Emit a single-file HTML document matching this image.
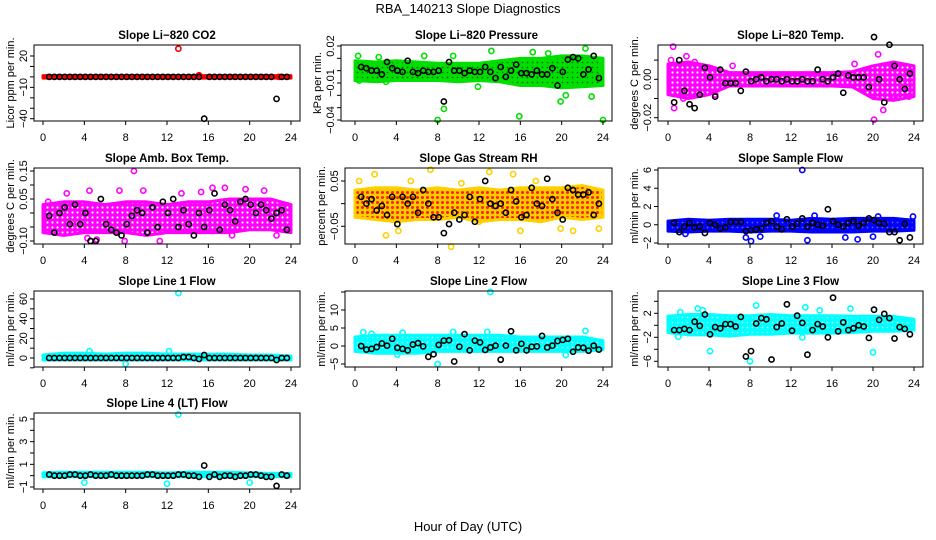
<!DOCTYPE html>
<html><head><meta charset="utf-8"><style>
body{margin:0;background:#fff}
svg{display:block;font-family:"Liberation Sans",sans-serif}
</style></head><body>
<svg id="c" width="936" height="540" viewBox="0 0 936 540">
<defs>
<pattern id="pt-red" width="5" height="5" patternUnits="userSpaceOnUse"><rect width="5" height="5" fill="#ff0000"/></pattern>
<pattern id="pt-green" width="5" height="5" patternUnits="userSpaceOnUse"><rect width="5" height="5" fill="#00e000"/><circle cx="2.5" cy="2.5" r="0.9" fill="#007000"/></pattern>
<pattern id="pt-magenta" width="5" height="5" patternUnits="userSpaceOnUse"><rect width="5" height="5" fill="#ff00ff"/><circle cx="2.5" cy="2.5" r="1.1" fill="#ffffff"/></pattern>
<pattern id="pt-rh" width="5" height="5" patternUnits="userSpaceOnUse"><rect width="5" height="5" fill="#ffcc00"/><circle cx="2.5" cy="2.5" r="1.5" fill="#ff2000"/></pattern>
<pattern id="pt-blue" width="5" height="5" patternUnits="userSpaceOnUse"><rect width="5" height="5" fill="#0000ff"/><circle cx="2.5" cy="2.5" r="0.9" fill="#6060ff"/></pattern>
<pattern id="pt-cyan" width="5" height="5" patternUnits="userSpaceOnUse"><rect width="5" height="5" fill="#00ffff"/><circle cx="2.5" cy="2.5" r="0.9" fill="#a0ffff"/></pattern>
</defs>
<text x="468" y="13" text-anchor="middle" font-size="13">RBA_140213  Slope Diagnostics</text>
<text x="468" y="531" text-anchor="middle" font-size="13">Hour of Day (UTC)</text>
</svg>
<script>
const xTicks=[0,4,8,12,16,20,24];
const bandHours=[0,2,4,6,8,10,12,14,16,18,20,22,24];
const blackHours=[0.6,1.1,1.6,2.1,2.6,3.1,3.6,4.1,4.6,5.1,5.6,6.1,6.6,7.1,7.6,8.1,8.6,9.1,9.6,10.1,10.6,11.1,11.6,12.1,12.6,13.1,13.6,14.1,14.6,15.1,15.6,16.1,16.6,17.1,17.6,18.1,18.6,19.1,19.6,20.1,20.6,21.1,21.6,22.1,22.6,23.1,23.6];

const co2Hi=[1.2,1.2,1.2,1.2,1.2,1.2,1.2,1.2,1.2,1.2,1.2,1.2,1.2];
const co2Lo=[-1.2,-1.2,-1.2,-1.2,-1.2,-1.2,-1.2,-1.2,-1.2,-1.2,-1.2,-1.2,-1.2];
const co2Black=[0,0,0,0,0,0,0,0,0,0,0,0,0,0,0,0,0,0,0,0,0,0,0,0,0,0,0,0,0,0,-40,0,0,0,0,0,0,0,0,0,0,0,0,0,-21,0,0];
const co2OutH=[13.1,15.1,22.8];
const co2OutV=[27,1.5,0];

const presHi=[.008,.007,.008,.007,.006,.006,.006,.008,.010,.010,.012,.012,.010];
const presLo=[-.008,-.009,-.008,-.008,-.008,-.009,-.008,-.009,-.012,-.012,-.014,-.013,-.012];
const presBlack=[.003,.002,0,0,-.003,.007,.002,0,-.001,.008,-.001,-.002,0,-.001,-.001,0,-.025,.007,0,0,-.002,0,-.001,-.001,.003,-.001,-.006,.003,-.005,0,.005,-.002,-.002,-.003,0,-.003,-.003,.002,-.012,-.001,.009,.011,.010,-.003,.001,.012,-.006];
const presOutH=[8,15.9,24,8.6,19.9,22.3,13.2,0.3,2.3,6.7,9.5,17.2,18.7,20.4,22.9,0.4,3,11.9];
const presOutV=[-.04,-.037,-.04,-.031,-.025,.018,.016,.012,.011,.012,.012,.015,.014,-.02,-.021,-.008,-.009,-.013];

const tmpHi=[.008,.009,.007,.0035,.0035,.0035,.0035,.0035,.0035,.004,.007,.009,.007];
const tmpLo=[-.008,-.010,-.008,-.0035,-.0035,-.0035,-.0035,-.0035,-.0035,-.004,-.010,-.011,-.009];
const tmpBlack=[-.012,.01,-.006,-.013,-.015,-.008,.006,.001,-.009,.005,-.002,-.002,-.002,-.006,.004,-.001,0,.001,-.001,0,0,-.001,0,-.001,-.001,0,-.001,-.001,.005,0,-.001,.001,.003,-.007,.002,.001,.001,.001,-.004,.022,0,-.012,.018,.007,0,-.005,.003];
const tmpOutH=[0.5,0.6,20.1,21,1.5,0.3,1.8,2.6,4.6,6.3,20.5,22.1,23.5,18.2];
const tmpOutV=[.017,-.015,-.021,-.016,-.01,.01,.012,.009,-.008,.007,.013,-.009,-.009,.008];

const ambHi=[.03,.04,.04,.03,.04,.04,.03,.04,.04,.05,.05,.05,.03];
const ambLo=[-.07,-.08,-.07,-.07,-.07,-.08,-.07,-.07,-.07,-.07,-.06,-.06,-.07];
const ambBlack=[-.01,-.07,0,.02,-.04,.03,-.04,0,-.1,-.1,.05,-.04,-.06,-.07,-.08,-.04,-.01,.01,0,-.07,.02,-.05,.04,0,.05,-.05,.01,-.04,-.08,0,-.05,.01,.07,-.06,.03,.01,-.03,.04,.05,.03,0,.03,.01,-.02,0,.01,-.06];
const ambOutH=[8.8,16.4,19.6,17.6,4.3,5.2,7.9,11.3,18.3,2.3,4.5,7.4,9.7,15.3,21.4,22.6,13.4,0.5];
const ambOutV=[.15,.09,.085,.09,-.09,-.095,-.1,-.1,-.08,.07,.08,.08,.08,.075,.08,-.08,.07,.04];

const rhHi=[.03,.035,.035,.03,.035,.03,.035,.03,.035,.035,.035,.04,.03];
const rhLo=[-.03,-.035,-.04,-.035,-.035,-.03,-.04,-.035,-.035,-.04,-.03,-.035,-.03];
const rhBlack=[.015,0,.01,-.015,-.005,-.025,.015,-.045,.015,0,.015,-.02,.03,0,-.03,-.03,-.065,-.045,-.02,-.035,-.025,.015,-.04,.01,.05,0,-.005,0,-.02,.03,.005,-.03,-.025,.035,0,-.005,.055,.01,-.02,-.035,.035,.03,.02,.02,.025,-.025,0];
const rhOutH=[9.3,7.3,1.9,15.3,3,13,4.2,12,16,19.9,21.1,23.6,0.4,5.4,10.3,17.5];
const rhOutV=[-.095,.075,.065,.065,-.07,.07,-.06,-.04,-.06,-.055,-.06,-.055,.05,.05,.045,.05];

const smpHi=[.4,.6,.5,.6,.6,.6,.5,.7,.6,.7,.7,.7,.5];
const smpLo=[-.7,-.8,-.7,-.7,-.8,-.7,-.7,-.8,-.8,-.8,-.7,-.7,-.6];
const smpBlack=[.2,-.8,-.2,.2,-.3,-.2,-.9,.2,0,-.4,-.3,.3,.3,.3,-.7,-.6,-.5,-.4,.2,.4,-.2,-.5,.6,-.2,.1,.7,-.2,.2,0,-.1,1.7,.4,0,-.2,.2,.4,-.1,.2,.7,.5,.2,.1,-.8,-.8,-1.7,.1,-1.4];
const smpOutH=[13.1,8.1,7.6,13.6,18.5,1.7,9,14.3,17.3,20,10.6,20.5,23.9];
const smpOutV=[6,-1.8,-1.4,-1.7,-1.6,-1,-1.3,1,-1.4,-1.3,1,.9,.9];

const l1Hi=[3,5,5,4,5,5,4,4,4,4,3,3,2];
const l1Lo=[-2,-2,-2,-2,-2,-2,-2,-2,-2,-2,-2,-2,-2];
const l1Black=[0,0,0,0,0,0,0,0,0,0,0,0,0,0,0,0,0,0,0,0,0,0,0,0,0,0,1,1,0,-1,3,0,0,0,0,0,0,0,0,0,0,0,0,0,-2,0,0];
const l1OutH=[13.1,8,4.5,12.2];
const l1OutV=[66,-6,7,7];

const l2Hi=[2.5,3,3,3,3,3,3,3,2.5,2.5,2.5,2.5,1.5];
const l2Lo=[-1.5,-2,-2,-2,-1.5,-1.5,-1.5,-1.5,-1.5,-1.5,-1.5,-1.5,-1];
const l2Black=[0,-1,-.8,-.3,.7,.1,2,-.5,-.8,-1.2,.4,.8,-.1,-3,-2.3,.3,1.5,1.6,-4.3,-.2,3.3,-1.2,1.5,1,-1.1,-.4,.1,-3.8,.1,4.1,-1.2,.6,-1.2,-.2,-.1,2.8,-.4,.1,1.4,1.7,2,-1.6,-.4,-.5,-1.3,.1,-1];
const l2OutH=[13.1,8,22.3,0.8,1.6,4.6,9.5,12.8,20.4,4.1];
const l2OutV=[15,-5,4.2,3.8,3.4,3.7,3.9,3.9,-2.5,-2.4];

const l3Hi=[1.5,1.8,1.8,1.6,1.6,1.8,1.6,1.6,1.6,1.5,1.5,1.5,1];
const l3Lo=[-1.2,-1.6,-1.6,-1.8,-1.5,-1.5,-1.3,-1.3,-1.3,-1.2,-1,-1,-.8];
const l3Black=[-.8,-.8,-.6,-.8,.6,-.1,1.8,-1.5,-.3,-.5,.2,.2,-.2,1.4,-5.2,-4.3,.3,1.2,1,-5.7,-.3,.3,3.5,-.9,1.6,.4,-4.9,-.8,.2,-.2,-2,4.6,-1,.5,-.8,-.5,0,-.2,-2.1,2.6,.9,1.9,1.2,-2.2,-.3,-.6,-1.5];
const l3OutH=[8,4.1,8.6,13.4,2.9,17.8,20,3.4,1.2,13.1,14.8,1];
const l3OutV=[-6,-4.3,3.3,3,2.8,2.8,-4.5,2.5,2.2,-2,2.5,-1.9];

const l4Hi=[.25,.3,.3,.3,.3,.3,.25,.3,.3,.3,.25,.2,.2];
const l4Lo=[-.1,-.1,-.1,-.1,-.1,-.1,-.1,-.1,-.1,-.1,-.1,-.1,-.1];
const l4Black=[.1,0,0,0,.1,.1,0,0,.1,0,0,0,.1,0,0,0,0,0,0,.1,.1,0,0,0,0,.1,.1,0,0,-.1,.9,-.1,.1,-.1,0,0,-.1,0,0,.1,.1,0,-.1,-.1,-.9,.1,0];
const l4OutH=[13.1,4,12,20];
const l4OutV=[5.4,-.6,-.7,-.6];

const panels=[
 {name:'co2',title:'Slope Li\u2212820 CO2',yl:'Licor ppm per min.',box:[34,45,300,121],x0:43,x24:291,v1:20,p1:56,v2:-40,p2:118.7,ticks:[20,10,0,-10,-20,-30,-40],labs:['20','\u221210','\u221240'],labv:[20,-10,-40],col:'#ff0000',pat:'pt-red',hi:co2Hi,lo:co2Lo,bk:co2Black,oh:co2OutH,ov:co2OutV},
 {name:'pressure',title:'Slope Li\u2212820 Pressure',yl:'kPa per min.',box:[341,45,612,121],x0:355,x24:603,v1:.02,p1:46,v2:-.04,p2:120,ticks:[.02,.01,0,-.01,-.02,-.03,-.04],labs:['0.02','\u22120.01','\u22120.04'],labv:[.02,-.01,-.04],col:'#00e000',pat:'pt-green',hi:presHi,lo:presLo,bk:presBlack,oh:presOutH,ov:presOutV},
 {name:'li820-temp',title:'Slope Li\u2212820 Temp.',yl:'degrees C per min.',box:[658,45,923,121],x0:668,x24:914,v1:0,p1:79.3,v2:-.02,p2:117.7,ticks:[.01,0,-.01,-.02],labs:['0.00','\u22120.02'],labv:[0,-.02],col:'#ff00ff',pat:'pt-magenta',hi:tmpHi,lo:tmpLo,bk:tmpBlack,oh:tmpOutH,ov:tmpOutV},
 {name:'amb-box-temp',title:'Slope Amb. Box Temp.',yl:'degrees C per min.',box:[34,168,300,244],x0:43,x24:291,v1:.15,p1:171,v2:-.10,p2:241,ticks:[.15,.10,.05,0,-.05,-.10],labs:['0.15','0.05','\u22120.10'],labv:[.15,.05,-.10],col:'#ff00ff',pat:'pt-magenta',hi:ambHi,lo:ambLo,bk:ambBlack,oh:ambOutH,ov:ambOutV},
 {name:'gas-rh',title:'Slope Gas Stream RH',yl:'percent per min.',box:[345,168,612,244],x0:355,x24:603,v1:.05,p1:181,v2:-.05,p2:226.3,ticks:[.05,0,-.05],labs:['0.05','\u22120.05'],labv:[.05,-.05],col:'#ffd000',pat:'pt-rh',hi:rhHi,lo:rhLo,bk:rhBlack,oh:rhOutH,ov:rhOutV},
 {name:'sample-flow',title:'Slope Sample Flow',yl:'ml/min per min.',box:[658,168,923,244],x0:668,x24:914,v1:6,p1:170,v2:-2,p2:243,ticks:[6,4,2,0,-2],labs:['6','4','2','0','\u22122'],labv:[6,4,2,0,-2],col:'#0000ff',pat:'pt-blue',hi:smpHi,lo:smpLo,bk:smpBlack,oh:smpOutH,ov:smpOutV},
 {name:'line1-flow',title:'Slope Line 1 Flow',yl:'ml/min per min.',box:[34,291,300,367],x0:43,x24:291,v1:60,p1:299,v2:0,p2:358,ticks:[60,50,40,30,20,10,0,-10],labs:['60','40','20','0'],labv:[60,40,20,0],col:'#00ffff',pat:'pt-cyan',hi:l1Hi,lo:l1Lo,bk:l1Black,oh:l1OutH,ov:l1OutV},
 {name:'line2-flow',title:'Slope Line 2 Flow',yl:'ml/min per min.',box:[345,291,612,367],x0:355,x24:603,v1:10,p1:310,v2:-5,p2:364,ticks:[15,10,5,0,-5],labs:['10','5','0','\u22125'],labv:[10,5,0,-5],col:'#00ffff',pat:'pt-cyan',hi:l2Hi,lo:l2Lo,bk:l2Black,oh:l2OutH,ov:l2OutV},
 {name:'line3-flow',title:'Slope Line 3 Flow',yl:'ml/min per min.',box:[658,291,923,367],x0:668,x24:914,v1:2,p1:313.3,v2:-2,p2:337.3,ticks:[4,2,0,-2,-4,-6],labs:['2','\u22122','\u22126'],labv:[2,-2,-6],col:'#00ffff',pat:'pt-cyan',hi:l3Hi,lo:l3Lo,bk:l3Black,oh:l3OutH,ov:l3OutV},
 {name:'line4-flow',title:'Slope Line 4 (LT) Flow',yl:'ml/min per min.',box:[34,413,300,489],x0:43,x24:291,v1:5,p1:419,v2:-1,p2:487,ticks:[5,4,3,2,1,0,-1],labs:['5','3','1','\u22121'],labv:[5,3,1,-1],col:'#00ffff',pat:'pt-cyan',hi:l4Hi,lo:l4Lo,bk:l4Black,oh:l4OutH,ov:l4OutV}
];
const NS='http://www.w3.org/2000/svg';
const svg=document.getElementById('c');
function mk(tag,attrs,parent){const e=document.createElementNS(NS,tag);for(const k in attrs)e.setAttribute(k,attrs[k]);(parent||svg).appendChild(e);return e;}
panels.forEach(p=>{
 const g=mk('g',{});
 
 
 const [L,T,R,B]=p.box;
 const xs=h=>p.x0+(p.x24-p.x0)*h/24;
 const ys=v=>p.p1+(v-p.v1)*(p.p2-p.p1)/(p.v2-p.v1);
 const cx=(L+R)/2;
 const t=mk('text',{x:cx,y:T-6,'text-anchor':'middle','font-size':'11.5','font-weight':'bold'},g);t.textContent=p.title;
 
 
 const yl=mk('text',{x:0,y:0,transform:`translate(${L-20},${(T+B)/2}) rotate(-90)`,'text-anchor':'middle','font-size':'11'},g);yl.textContent=p.yl;
 
 
 let pts=bandHours.map((h,i)=>xs(h)+','+ys(p.hi[i]));
 pts=pts.concat(bandHours.map((h,i)=>xs(h)+','+ys(p.lo[i])).reverse());
 const band=mk('polygon',{points:pts.join(' '),fill:'url(#'+p.pat+')',stroke:p.col,'stroke-width':'3','stroke-linejoin':'round'},g);
 
 
 p.oh.forEach((h,i)=>{
  const c=mk('circle',{cx:xs(h),cy:ys(p.ov[i]),r:2.6,fill:'none',stroke:p.col,'stroke-width':'1.6'},g);
  
  
 });
 const n=Math.min(blackHours.length,p.bk.length);
 for(let i=0;i<n;i++){
  const c=mk('circle',{cx:xs(blackHours[i]),cy:ys(p.bk[i]),r:2.6,fill:'none',stroke:'#000','stroke-width':'1.6'},g);
  
  
 }
 const box=mk('rect',{x:L,y:T,width:R-L,height:B-T,fill:'none',stroke:'#000','stroke-width':'1'},g);
 
 
 const yt=p.ticks.map(ys).filter(y=>y>=T-1&&y<=B+1);
 mk('line',{x1:L,x2:L,y1:Math.min(...yt),y2:Math.max(...yt),stroke:'#000'},g);
 p.ticks.forEach(v=>{const y=ys(v);if(y<T-1||y>B+1)return;mk('line',{x1:L-4,x2:L,y1:y,y2:y,stroke:'#000'},g);});
 p.labs.forEach((s,i)=>{const y=ys(p.labv[i]);const tx=mk('text',{x:0,y:0,transform:`translate(${L-7},${y}) rotate(-90)`,'text-anchor':'middle','font-size':'11'},g);tx.textContent=s;
  
  });
 mk('line',{x1:xs(0),x2:xs(24),y1:B,y2:B,stroke:'#000'},g);
 xTicks.forEach(h=>{const x=xs(h);mk('line',{x1:x,x2:x,y1:B,y2:B+4,stroke:'#000'},g);
  const tx=mk('text',{x:x,y:B+20,'text-anchor':'middle','font-size':'11'},g);tx.textContent=h;
  
  });
});
</script>
</body></html>
